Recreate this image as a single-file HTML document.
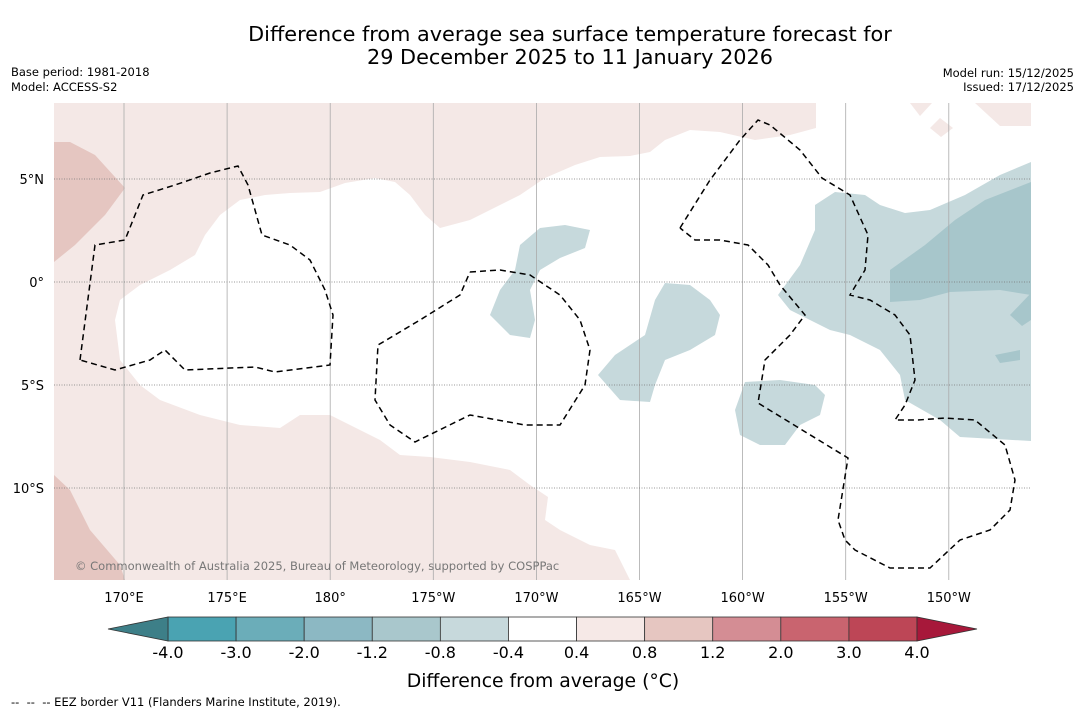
<!DOCTYPE html>
<html><head><meta charset="utf-8">
<style>
body{margin:0;background:#fff;font-family:"DejaVu Sans","Liberation Sans",sans-serif;}
svg{display:block}
</style></head>
<body>
<svg id="chart" width="1085" height="713" viewBox="0 0 1085 713">
<rect width="1085" height="713" fill="#fff"/>
<text x="570" y="41" font-size="20.8" text-anchor="middle" fill="#000">Difference from average sea surface temperature forecast for</text>
<text x="570" y="64" font-size="20.8" text-anchor="middle" fill="#000">29 December 2025 to 11 January 2026</text>
<text x="11" y="76" font-size="11.5">Base period: 1981-2018</text>
<text x="11" y="91" font-size="11.5">Model: ACCESS-S2</text>
<text x="1074" y="77" font-size="11.5" text-anchor="end">Model run: 15/12/2025</text>
<text x="1074" y="91" font-size="11.5" text-anchor="end">Issued: 17/12/2025</text>

<g>
<rect x="54" y="103" width="977" height="477" fill="#ffffff"/>
<polygon fill="#f4e8e6" points="54,103 816,103 816,128 790,135 755,140 720,132 690,130 665,140 650,152 630,156 600,157 575,165 545,178 520,195 500,205 470,220 440,228 425,215 410,195 395,182 375,178 345,183 320,192 290,193 265,195 240,200 220,215 205,235 195,255 170,270 140,285 120,300 115,320 120,360 140,385 160,400 200,415 240,425 280,428 300,415 330,415 350,425 380,440 400,455 430,457 470,462 510,470 530,485 548,497 545,520 560,530 590,545 615,550 630,580 54,580"/>
<polygon fill="#f4e8e6" points="910,103 932,103 920,116"/>
<polygon fill="#f4e8e6" points="975,103 1031,103 1031,126 1000,126"/>
<polygon fill="#f4e8e6" points="930,128 940,118 953,128 941,137"/>
<polygon fill="#e5c6c1" points="54,142 70,142 95,155 125,188 105,215 75,245 54,262"/>
<polygon fill="#e5c6c1" points="54,475 70,490 90,530 120,565 125,580 54,580"/>
<polygon fill="#c6d9dc" points="520,245 540,228 565,225 590,230 585,248 560,258 540,270 530,290 535,320 530,338 510,335 490,315 500,290 515,270"/>
<polygon fill="#c6d9dc" points="598,375 615,355 645,335 655,300 665,283 690,285 710,300 720,315 715,335 690,350 665,360 655,385 650,402 620,400"/>
<polygon fill="#c6d9dc" points="735,410 745,382 780,380 815,385 825,395 820,415 800,425 785,445 760,445 740,435"/>
<polygon fill="#c6d9dc" points="778,295 800,265 815,230 815,205 835,192 865,195 880,205 905,213 930,210 965,195 1000,175 1031,162 1031,441 960,437 940,420 905,400 900,375 880,350 850,335 830,330 810,320 790,310"/>
<polygon fill="#a7c6cb" points="890,270 925,245 955,220 985,200 1031,182 1031,295 1000,290 950,292 920,300 890,302"/>
<polygon fill="#a7c6cb" points="1010,315 1031,293 1031,320 1022,326"/>
<polygon fill="#a7c6cb" points="995,355 1020,350 1020,360 1000,363"/>
<g id="grid"></g>
<g fill="none" stroke="#000" stroke-width="1.5" stroke-dasharray="6,4">
<polyline points="80,360 95,245 125,240 143,195 175,185 210,173 238,166 248,185 262,235 290,245 310,260 325,290 333,315 330,365 275,372 255,367 185,370 165,350 150,360 115,370 80,360"/>
<polyline points="470,272 500,270 530,275 560,295 580,320 590,350 585,385 560,425 525,425 470,415 415,442 390,425 375,400 378,345 420,320 460,295 470,272"/>
<polyline points="680,228 710,180 740,140 758,120 770,125 800,150 822,178 850,195 868,235 865,270 850,295 870,300 895,315 910,335 915,380 905,405 895,420 918,420 945,418 975,420 1005,445 1015,480 1010,510 990,530 960,540 930,568 890,568 855,550 845,540 838,520 848,458 758,403 765,360 790,335 805,315 780,285 768,265 748,245 720,240 695,240 680,228"/>
</g>
<text x="75" y="570" font-size="11.5" fill="#777">© Commonwealth of Australia 2025, Bureau of Meteorology, supported by COSPPac</text>
</g>
<g id="lonlabels" font-size="13" text-anchor="middle"></g>
<g id="latlabels" font-size="13" text-anchor="end"></g>
<g id="cbar"></g>
<text x="543" y="687" font-size="18.8" text-anchor="middle">Difference from average (°C)</text>
<text x="11" y="706" font-size="11.5" xml:space="preserve" style="white-space:pre">--  --  -- EEZ border V11 (Flanders Marine Institute, 2019).</text>
</svg>
<script>
const lonLabels=["170°E","175°E","180°","175°W","170°W","165°W","160°W","155°W","150°W"];
const latLabels=["5°N","0°","5°S","10°S"];
const levels=[-4,-3,-2,-1.2,-0.8,-0.4,0.4,0.8,1.2,2,3,4];
const tickLabels=["-4.0","-3.0","-2.0","-1.2","-0.8","-0.4","0.4","0.8","1.2","2.0","3.0","4.0"];
const fillColors=["#4aa3b2","#6badb9","#8cb8c3","#a9c7cc","#c7d9dc","#ffffff","#f6e9e7","#e6c6c1","#d48d94","#c9646f","#bd4656"];
const NS="http://www.w3.org/2000/svg";
function el(t,a,p){const e=document.createElementNS(NS,t);for(const k in a)e.setAttribute(k,a[k]);p.appendChild(e);return e;}
const lonX=i=>124+i*103.1, latY=i=>179+i*103;
const grid=document.getElementById('grid');
lonLabels.forEach((l,i)=>{
  const g=el('line',{x1:lonX(i),x2:lonX(i),y1:103,y2:580,stroke:'#aaa','stroke-width':0.8},grid);
  
  
  const t=el('text',{x:lonX(i),y:602},document.getElementById('lonlabels'));t.textContent=l;
  
  
});
latLabels.forEach((l,i)=>{
  const g=el('line',{x1:54,x2:1031,y1:latY(i),y2:latY(i),stroke:'#777','stroke-width':0.8,'stroke-dasharray':'1,1.5'},grid);
  
  
  const t=el('text',{x:44,y:latY(i)+5},document.getElementById('latlabels'));t.textContent=l;
  
  
});
const cb=document.getElementById('cbar');
const n=levels.length-1, x0=168, x1=917, w=(x1-x0)/n, yT=617, yB=641;
const cx=i=>x0+i*w;
for(let i=0;i<n;i++){
  const r=el('rect',{x:cx(i),y:yT,width:w,height:yB-yT,fill:fillColors[i],stroke:'#333','stroke-width':0.8},cb);
  
  
}
const la=el('polygon',{points:`${cx(0)},${yT} ${cx(0)},${yB} 108,629`,fill:'#3d7f88',stroke:'#333','stroke-width':0.8},cb);


const ra=el('polygon',{points:`${cx(n)},${yT} ${cx(n)},${yB} 977,629`,fill:'#a7183a',stroke:'#333','stroke-width':0.8},cb);


tickLabels.forEach((l,i)=>{
  const t=el('text',{x:cx(i),y:658,'font-size':16,'text-anchor':'middle'},cb);t.textContent=l;
  
  
});
</script>
</body></html>
